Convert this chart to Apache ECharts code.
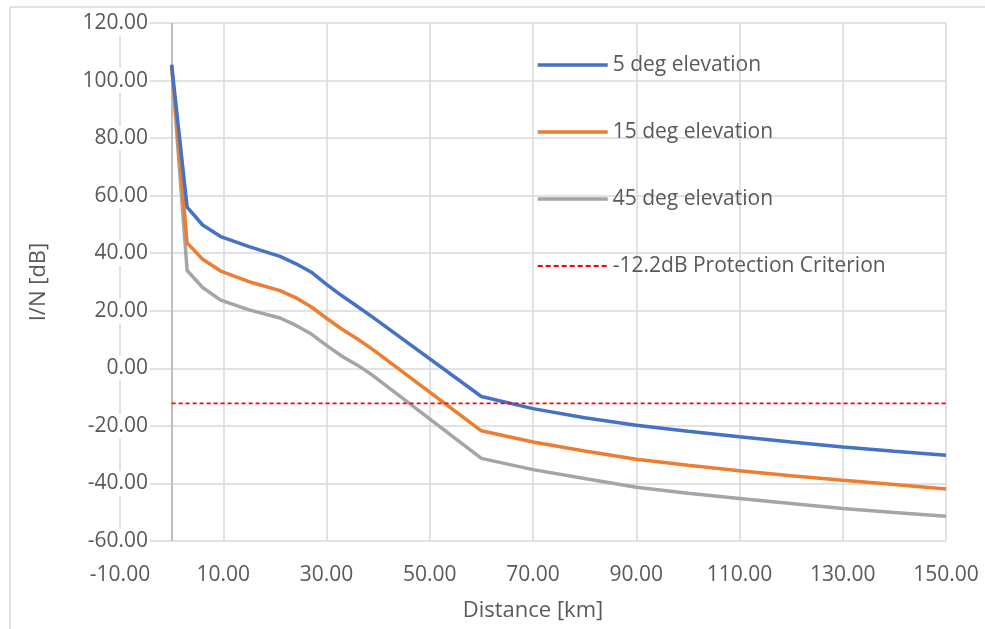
<!DOCTYPE html>
<html>
<head>
<meta charset="utf-8">
<script src="https://cdn.jsdelivr.net/npm/echarts@6/dist/echarts.min.js"></script>
<style>
html,body{margin:0;padding:0;background:#fff;}
#chart{width:985px;height:629px;}
</style>
</head>
<body>
<div id="chart"></div>
<script>
// ---- data ----
const distances = [0, 3, 6, 9.5, 15, 21, 24, 27, 30, 33, 36, 39, 60, 70, 80, 90, 100, 110, 120, 130, 140, 150];
const elev5  = [105.5, 56.0, 49.8, 45.8, 42.3, 38.9, 36.4, 33.5, 29.2, 25.2, 21.5, 17.7, -9.8, -14.0, -17.2, -19.8, -21.9, -23.8, -25.6, -27.3, -28.8, -30.2];
const elev15 = [105.0, 43.6, 37.9, 33.8, 30.1, 27.0, 24.6, 21.4, 17.4, 13.6, 10.2, 6.5, -21.7, -25.6, -28.7, -31.6, -33.7, -35.6, -37.3, -38.9, -40.4, -41.9];
const elev45 = [105.5, 34.0, 28.1, 23.7, 20.3, 17.5, 15.0, 12.0, 8.0, 4.2, 1.1, -2.5, -31.3, -35.2, -38.3, -41.3, -43.4, -45.2, -47.0, -48.7, -50.1, -51.4];
const criterionDistances = [0, 150];
const criterionLevel = -12.2;
const seriesNames = ['5 deg elevation', '15 deg elevation', '45 deg elevation', '-12.2dB Protection Criterion'];
const xRange = [-10, 150, 20];
const yRange = [-60, 120, 20];

const pairs = (xs, ys) => xs.map((x, i) => [x, ys[i]]);
const FONT = 'Open Sans';
const TXT = '#595959';
const COLORS = ['#4472C4', '#ED7D31', '#A5A5A5', '#FF0000'];

const chart = echarts.init(document.getElementById('chart'), null, {renderer: 'canvas'});
chart.setOption({
  animation: false,
  backgroundColor: '#fff',
  textStyle: {fontFamily: FONT},
  graphic: [
    {type: 'line', shape: {x1: 10, y1: 7, x2: 985, y2: 7}, style: {stroke: '#d9d9d9', lineWidth: 1.5}, silent: true},
    {type: 'line', shape: {x1: 10, y1: 7, x2: 10, y2: 629}, style: {stroke: '#d9d9d9', lineWidth: 1.5}, silent: true}
  ],
  grid: {left: 120, right: 39, top: 23, bottom: 88, containLabel: false},
  legend: {
    orient: 'vertical',
    left: 531,
    top: 48,
    itemWidth: 70,
    itemHeight: 14,
    itemGap: 43,
    itemStyle: {opacity: 0},
    lineStyle: {width: 3.5},
    textStyle: {fontFamily: FONT, fontSize: 21, color: TXT, lineHeight: 24},
    data: [
      {name: seriesNames[0]},
      {name: seriesNames[1]},
      {name: seriesNames[2]},
      {name: seriesNames[3], lineStyle: {width: 2, type: [5, 3]}}
    ]
  },
  xAxis: {
    type: 'value',
    min: xRange[0], max: xRange[1], interval: xRange[2],
    name: 'Distance [km]',
    nameLocation: 'middle',
    nameGap: 59,
    nameTextStyle: {fontFamily: FONT, fontSize: 22, color: TXT},
    axisLine: {show: false},
    axisTick: {show: false},
    axisLabel: {margin: 24, fontFamily: FONT, fontSize: 21, color: TXT, formatter: v => v.toFixed(2)},
    splitLine: {show: true, lineStyle: {color: '#d9d9d9', width: 1.5}}
  },
  yAxis: {
    type: 'value',
    min: yRange[0], max: yRange[1], interval: yRange[2],
    name: 'I/N [dB]',
    nameLocation: 'middle',
    nameGap: 70,
    nameTextStyle: {fontFamily: FONT, fontSize: 22, color: TXT},
    axisLine: {show: false},
    axisTick: {show: false},
    axisLabel: {
      margin: -30, fontFamily: FONT, fontSize: 21, color: TXT,
      backgroundColor: '#fff', width: 60, align: 'right', padding: [2, 2, 2, 0],
      formatter: v => v.toFixed(2)
    },
    splitLine: {show: true, lineStyle: {color: '#d9d9d9', width: 1.5}}
  },
  series: [
    {name: seriesNames[0], type: 'line', symbol: 'none', data: pairs(distances, elev5),
     itemStyle: {color: COLORS[0]}, lineStyle: {color: COLORS[0], width: 3.5}, z: 5},
    {name: seriesNames[1], type: 'line', symbol: 'none', data: pairs(distances, elev15),
     itemStyle: {color: COLORS[1]}, lineStyle: {color: COLORS[1], width: 3.5}, z: 4},
    {name: seriesNames[2], type: 'line', symbol: 'none', data: pairs(distances, elev45),
     itemStyle: {color: COLORS[2]}, lineStyle: {color: COLORS[2], width: 3.5}, z: 3},
    {name: seriesNames[3], type: 'line', symbol: 'none',
     data: criterionDistances.map(x => [x, criterionLevel]),
     itemStyle: {color: COLORS[3]}, lineStyle: {color: COLORS[3], width: 1.8, type: [4, 3]}, z: 6,
     markLine: {
       silent: true, symbol: 'none', label: {show: false},
       lineStyle: {color: '#bfbfbf', type: 'solid', width: 2},
       data: [{xAxis: 0}], z: 2
     }}
  ]
});
</script>
</body>
</html>
